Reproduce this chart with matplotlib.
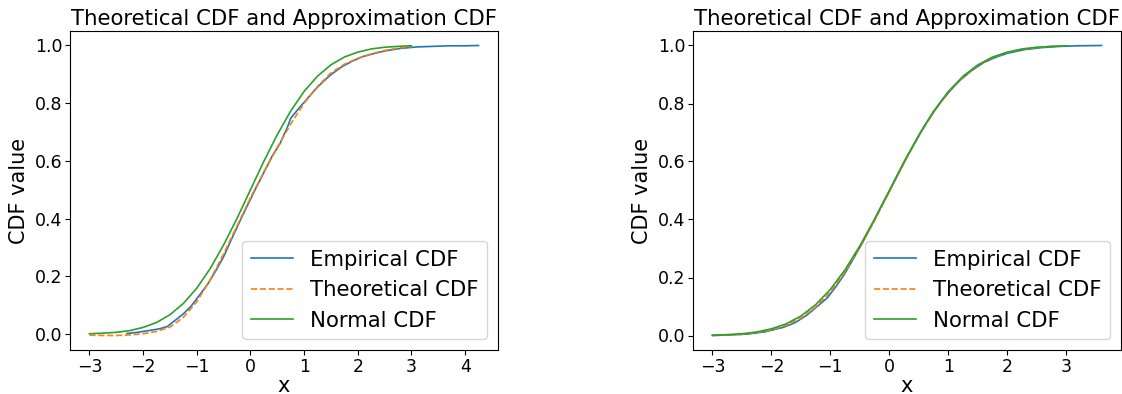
import matplotlib
matplotlib.use('Agg')
import matplotlib.pyplot as plt

# 격자 x 값 (이론 / 정규 CDF)
grid_x = [-3.0, -2.75, -2.5, -2.25, -2.0, -1.75, -1.5, -1.25, -1.0, -0.75, -0.5, -0.25,
          0.0, 0.25, 0.5, 0.75, 1.0, 1.25, 1.5, 1.75, 2.0, 2.25, 2.5, 2.75, 3.0]

# 정규 CDF (두 그래프 공통)
normal_cdf = [0.001, 0.003, 0.006, 0.012, 0.023, 0.040, 0.067, 0.106, 0.159, 0.227, 0.309, 0.401,
              0.500, 0.599, 0.691, 0.773, 0.841, 0.894, 0.933, 0.960, 0.977, 0.988, 0.994, 0.997, 0.999]

# 왼쪽: 이론 CDF
theory_left = [-0.004, -0.005, -0.005, -0.003, 0.001, 0.009, 0.024, 0.058, 0.112, 0.188, 0.278, 0.375,
               0.472, 0.562, 0.647, 0.728, 0.800, 0.858, 0.905, 0.935, 0.956, 0.971, 0.983, 0.991, 0.996]

# 오른쪽: 이론 CDF
theory_right = [0.000, 0.002, 0.004, 0.010, 0.019, 0.035, 0.060, 0.098, 0.150, 0.220, 0.303, 0.396,
                0.496, 0.595, 0.688, 0.770, 0.838, 0.891, 0.931, 0.958, 0.976, 0.987, 0.993, 0.997, 0.999]

# 왼쪽: 경험적 CDF
emp_left_x = [-2.3, -2.1, -1.9, -1.7, -1.55, -1.4, -1.25, -1.1, -0.95, -0.8, -0.65, -0.5,
              -0.35, -0.2, -0.05, 0.1, 0.25, 0.4, 0.55, 0.7, 0.75, 0.9, 1.05, 1.2,
              1.35, 1.5, 1.7, 1.9, 2.1, 2.3, 2.5, 2.8, 3.1, 3.4, 3.7, 4.0, 4.25]
emp_left_y = [0.002, 0.006, 0.012, 0.018, 0.026, 0.048, 0.070, 0.098, 0.135, 0.172, 0.218, 0.268,
              0.330, 0.390, 0.448, 0.505, 0.560, 0.615, 0.660, 0.722, 0.748, 0.782, 0.814, 0.846,
              0.874, 0.899, 0.926, 0.946, 0.962, 0.972, 0.981, 0.990, 0.995, 0.997, 0.999, 0.999, 1.000]

# 오른쪽: 경험적 CDF
emp_right_x = [-3.0, -2.7, -2.4, -2.1, -1.8, -1.6, -1.4, -1.2, -1.05, -0.9, -0.75, -0.6,
               -0.45, -0.3, -0.15, 0.0, 0.15, 0.3, 0.45, 0.6, 0.75, 0.9, 1.05, 1.2,
               1.4, 1.6, 1.8, 2.0, 2.3, 2.6, 2.9, 3.2, 3.6]
emp_right_y = [0.000, 0.002, 0.005, 0.013, 0.028, 0.044, 0.070, 0.104, 0.130, 0.170, 0.215, 0.268,
               0.322, 0.380, 0.440, 0.497, 0.557, 0.616, 0.670, 0.724, 0.770, 0.812, 0.848, 0.880,
               0.914, 0.941, 0.959, 0.973, 0.986, 0.993, 0.997, 0.999, 1.000]

fig = plt.figure(figsize=(11.22, 3.94), dpi=100)
ax1 = fig.add_axes([70 / 1122, 44 / 394, 428 / 1122, 319 / 394])
ax2 = fig.add_axes([693 / 1122, 44 / 394, 428 / 1122, 319 / 394])

panels = [(ax1, emp_left_x, emp_left_y, theory_left),
          (ax2, emp_right_x, emp_right_y, theory_right)]

for ax, ex, ey, th in panels:
    ax.plot(ex, ey, color='tab:blue', lw=1.2, label='Empirical CDF')
    ax.plot(grid_x, th, color='tab:orange', lw=1.2, ls='--', label='Theoretical CDF')
    ax.plot(grid_x, normal_cdf, color='tab:green', lw=1.2, label='Normal CDF')
    ax.set_title('Theoretical CDF and Approximation CDF', fontsize=15.3, pad=4)
    ax.set_xlabel('x', fontsize=15, labelpad=0)
    ax.set_ylabel('CDF value', fontsize=15)
    ax.tick_params(labelsize=12.5, pad=2)
    ax.legend(loc='lower right', fontsize=15.3)

fig.savefig('out.png', dpi=100)
